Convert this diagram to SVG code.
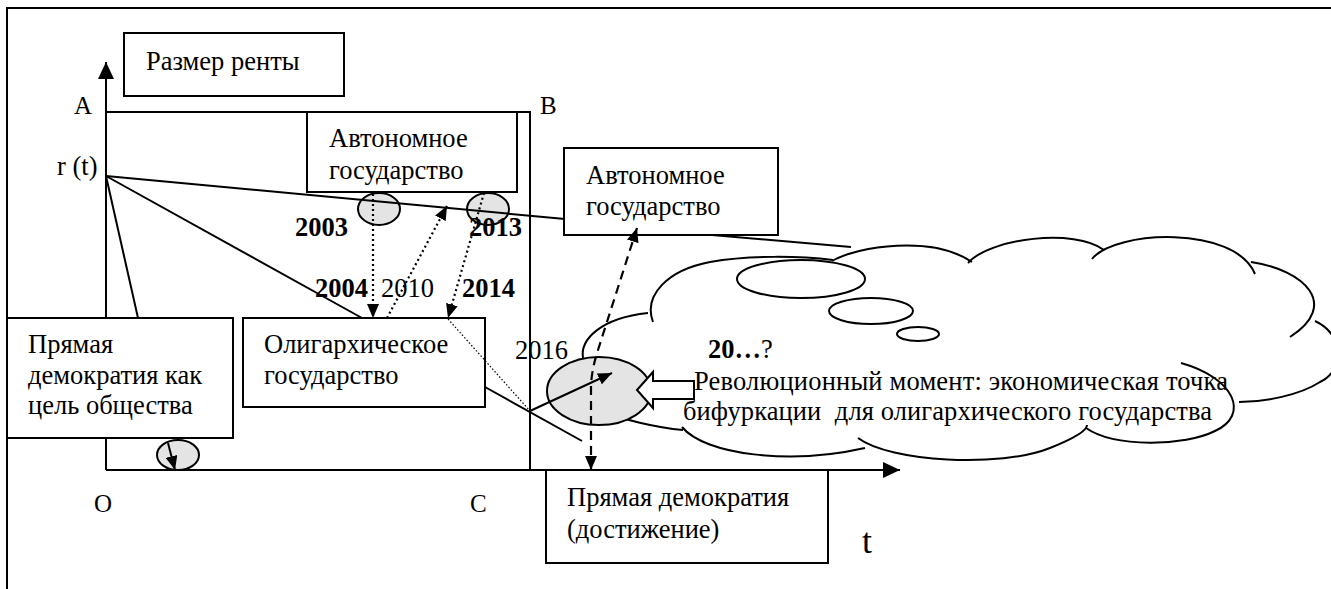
<svg xmlns="http://www.w3.org/2000/svg" width="1331" height="589" viewBox="0 0 1331 589">
<style>
text{font-family:"Liberation Serif","Times New Roman",serif;fill:#000;white-space:pre}
.t{font-size:26.5px}
.b{font-size:26.5px;font-weight:bold}
.lbl{font-size:25px}
.box{fill:#fff;stroke:#000;stroke-width:2}
.ln{fill:none;stroke:#000;stroke-width:2}
.dot{fill:none;stroke:#000;stroke-width:2.2;stroke-dasharray:2 3}
.fine{fill:none;stroke:#000;stroke-width:1.2;stroke-dasharray:1.5 2}
.dash{fill:none;stroke:#000;stroke-width:2.2;stroke-dasharray:9 6}
.cl{fill:none;stroke:#000;stroke-width:2}
.gray{fill:#e4e4e4;stroke:#000;stroke-width:2}
</style>
<defs>
<marker id="ax" markerUnits="userSpaceOnUse" markerWidth="18" markerHeight="16" refX="17" refY="8" orient="auto"><path d="M0,0 L17,8 L0,16 z" fill="#000"/></marker>
<marker id="ah" markerUnits="userSpaceOnUse" markerWidth="15" markerHeight="12" refX="14" refY="6" orient="auto-start-reverse"><path d="M0,0 L14,6 L0,12 z" fill="#000"/></marker>
</defs>
<rect width="1331" height="589" fill="#fff"/>
<g id="frame">
<path d="M7,589 V8 H1331" class="ln"/>
</g>
<g id="cloud">
<path class="cl" d="M583,358 C580,340 600,318 648,313"/>
<path class="cl" d="M653,322 C643,295 668,270 710,262 C750,255 800,256 833,260"/>
<path class="cl" d="M832,261 C858,246 932,235 972,262"/>
<path class="cl" d="M968,263 C990,238 1075,228 1104,250"/>
<path class="cl" d="M1092,259 C1115,230 1235,225 1255,274"/>
<path class="cl" d="M1251,262 C1305,270 1340,305 1290,337"/>
<path class="cl" d="M1315,321 C1345,335 1345,370 1320,382 C1300,395 1265,402 1239,402"/>
<path class="cl" d="M1181,363 C1235,378 1250,415 1215,431 C1185,446 1115,448 1086,428"/>
<path class="cl" d="M858,438 C890,462 1000,468 1050,448 C1075,438 1087,430 1087,425"/>
<path class="cl" d="M682,427 C705,455 790,465 865,448"/>
<path class="cl" d="M595,408 C620,420 660,428 683,430"/>
<ellipse class="cl" cx="801" cy="279" rx="64" ry="19"/>
<ellipse class="cl" cx="871" cy="311" rx="42" ry="13"/>
<ellipse class="cl" cx="918" cy="334" rx="21" ry="7"/>
</g>
<g id="axes">
<line class="ln" x1="106" y1="470" x2="106" y2="62" marker-end="url(#ax)"/>
<line class="ln" x1="106" y1="470" x2="900" y2="470" marker-end="url(#ax)"/>
<path class="ln" d="M106,112 H530 V470"/>
<text class="lbl" x="74" y="114">A</text>
<text class="lbl" x="540" y="114">B</text>
<text class="lbl" x="94" y="512">O</text>
<text class="lbl" x="470" y="512">C</text>
<text class="t" x="57" y="175">r (t)</text>
<text x="862" y="553" style="font-size:36px">t</text>
</g>
<g id="n-rent"><rect class="box" x="124" y="33" width="220" height="63"/><text class="t" x="146" y="70">Размер ренты</text></g>
<g id="n-auto1"><rect class="box" x="307" y="112" width="210" height="80"/><text class="t" x="329" y="147">Автономное</text><text class="t" x="329" y="179">государство</text></g>
<g id="n-auto2"><rect class="box" x="564" y="148" width="214" height="87"/><text class="t" x="586" y="184">Автономное</text><text class="t" x="586" y="215">государство</text></g>
<g id="n-direct"><rect class="box" x="7" y="318" width="226" height="120"/><text class="t" x="28" y="353">Прямая</text><text class="t" x="28" y="384">демократия как</text><text class="t" x="28" y="414">цель общества</text></g>
<g id="n-olig"><rect class="box" x="243" y="318" width="242" height="89"/><text class="t" x="264" y="353">Олигархическое</text><text class="t" x="264" y="384">государство</text></g>
<g id="n-achieve"><rect class="box" x="546" y="470" width="282" height="93"/><text class="t" x="567" y="506">Прямая демократия</text><text class="t" x="567" y="538">(достижение)</text></g>
<g id="n-e2003"><ellipse class="gray" cx="379" cy="209" rx="21" ry="16"/></g>
<g id="n-e2013"><ellipse class="gray" cx="488" cy="209" rx="21" ry="16"/></g>
<g id="n-e0"><ellipse class="gray" cx="178" cy="455" rx="21" ry="15"/></g>
<g id="n-e2016"><ellipse class="gray" cx="599" cy="391" rx="52" ry="34"/></g>
<g id="connectors">
<line class="ln" x1="106" y1="176" x2="565" y2="219"/>
<line class="ln" x1="106" y1="176" x2="362" y2="318"/>
<line class="ln" x1="106" y1="176" x2="138" y2="318"/>
<line class="ln" x1="485" y1="387" x2="582" y2="441"/>
<line class="ln" x1="712" y1="235" x2="851" y2="247"/>
<line class="fine" x1="448" y1="319" x2="530" y2="411"/>
<line class="dot" x1="373" y1="194" x2="373" y2="318" marker-end="url(#ah)"/>
<line class="dot" x1="387" y1="318" x2="447" y2="206" marker-end="url(#ah)"/>
<line class="dot" x1="484" y1="193" x2="448" y2="318" marker-end="url(#ah)"/>
<line class="ln" x1="168" y1="443" x2="175" y2="470" marker-end="url(#ah)"/>
<line class="ln" x1="530" y1="411" x2="612" y2="373" marker-end="url(#ah)"/>
<path class="dash" d="M591,470 L591,385 Q592,368 598,350 L637,228" marker-start="url(#ah)" marker-end="url(#ah)"/>
<path d="M637,390 L653,372 L653,381 L694,381 L694,399 L653,399 L653,408 Z" fill="#fff" stroke="#000" stroke-width="2"/>
</g>
<g id="labels">
<text class="b" x="295" y="236">2003</text>
<text class="b" x="469" y="236">2013</text>
<text class="b" x="315" y="297">2004</text>
<text class="t" x="381" y="297">2010</text>
<text class="b" x="462" y="297">2014</text>
<text class="t" x="515" y="359">2016</text>
<text x="708" y="358" class="t"><tspan style="font-weight:bold">20…</tspan>?</text>
<text class="t" x="694" y="390" textLength="534" lengthAdjust="spacing">Революционный момент: экономическая точка</text>
<text class="t" x="683" y="420" textLength="529" lengthAdjust="spacing">бифуркации  для олигархического государства</text>
</g>
</svg>
